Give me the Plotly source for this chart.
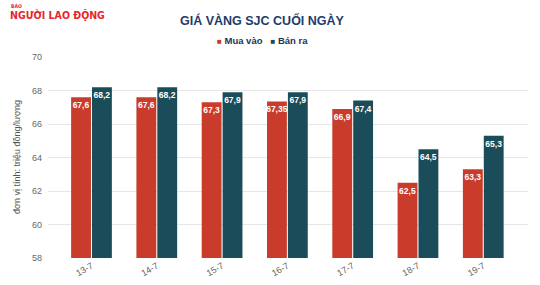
import plotly.graph_objects as go

categories = ["13-7", "14-7", "15-7", "16-7", "17-7", "18-7", "19-7"]
mua_vao = [67.6, 67.6, 67.3, 67.35, 66.9, 62.5, 63.3]
ban_ra = [68.2, 68.2, 67.9, 67.9, 67.4, 64.5, 65.3]
y_ticks = [58, 60, 62, 64, 66, 68, 70]

RED = "#c93c2b"
TEAL = "#1a4d59"

def fmt(v):
    return ("%g" % v).replace(".", ",")

W, H = 540, 285
L, R, T, B = 48, 12, 57, 27
PW, PH = W - L - R, H - T - B

def px(x):
    return (x - L) / PW

def py(y):
    return 1 + (T - y) / PH

fig = go.Figure()
for name, vals, col in [("Mua vào", mua_vao, RED), ("Bán ra", ban_ra, TEAL)]:
    fig.add_trace(go.Bar(
        name=name, x=categories, y=vals, marker=dict(color=col, line=dict(width=0)),
        text=[fmt(v) for v in vals], textposition="inside", insidetextanchor="end",
        textangle=0, constraintext="none", showlegend=False,
        textfont=dict(family="Liberation Sans, Arial", size=8.5, color="white", weight="bold"),
        hoverinfo="skip",
    ))

legend_html = ("<span style='color:%s;font-size:8px'>■</span> Mua vào   "
               "<span style='color:%s;font-size:8px'>■</span> Bán ra" % (RED, TEAL))

fig.update_layout(
    width=W, height=H, margin=dict(l=L, r=R, t=T, b=B),
    paper_bgcolor="white", plot_bgcolor="white",
    barmode="group", bargap=0.36, bargroupgap=0.05,
    showlegend=False,
    font=dict(family="Liberation Sans, Arial", color="#666666"),
    xaxis=dict(type="category", range=[-0.666, 6.685], tickangle=-30, showgrid=False,
               showline=False, ticks="", tickfont=dict(size=9, color="#666666"), automargin=False),
    yaxis=dict(range=[58, 70], tickvals=y_ticks, showgrid=True, gridcolor="#e6e6e6",
               gridwidth=1, zeroline=False, showline=False, ticks="", ticklabelstandoff=5,
               tickfont=dict(size=9, color="#666666"), automargin=False),
    annotations=[
        dict(text="<b>GIÁ VÀNG SJC CUỐI NGÀY</b>", xref="paper", yref="paper",
             x=px(262), y=py(20), xanchor="center", yanchor="middle", showarrow=False,
             font=dict(family="Liberation Sans, Arial", size=12.5, color="#1f3b6b")),
        dict(text=legend_html, xref="paper", yref="paper",
             x=px(262), y=py(40), xanchor="center", yanchor="middle", showarrow=False,
             font=dict(family="Liberation Sans, Arial", size=9.5, color="#1d3553", weight="bold")),
        dict(text="đơn vị tính: triệu đồng/lượng", xref="paper", yref="paper",
             x=px(17), y=py(157), xanchor="center", yanchor="middle", showarrow=False,
             textangle=-90, font=dict(family="Liberation Sans, Arial", size=9, color="#555555")),
        dict(text="<b>BÁO</b>", xref="paper", yref="paper",
             x=px(9), y=py(6), xanchor="left", yanchor="middle", showarrow=False,
             font=dict(family="DejaVu Sans Condensed, Liberation Sans Narrow, Arial", size=5, color="#e8262c")),
        dict(text="<b>NGƯỜI LAO ĐỘNG</b>", xref="paper", yref="paper",
             x=px(8), y=py(15), xanchor="left", yanchor="middle", showarrow=False,
             font=dict(family="DejaVu Sans Condensed, Liberation Sans Narrow, Arial", size=10.5, color="#e8262c")),
    ],
)

fig.write_html("out.html")
